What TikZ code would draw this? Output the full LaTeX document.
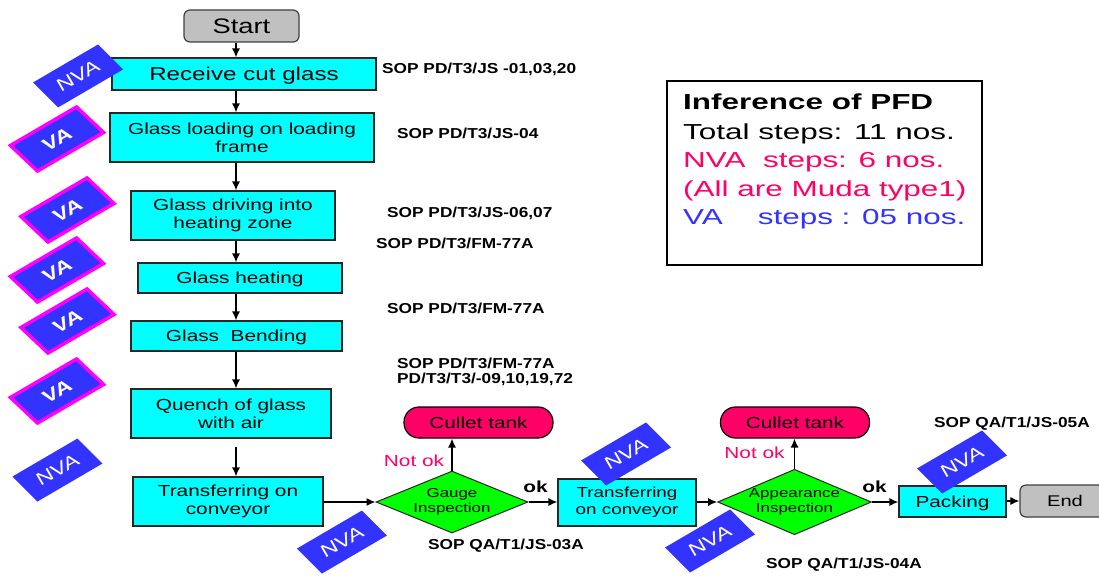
\documentclass[tikz,border=0pt]{standalone}
\usepackage{fontspec}
\setmainfont{Liberation Sans}[FakeStretch=1.3]
\newfontfamily\sopfont{Liberation Sans}[FakeStretch=1.2]
\newfontfamily\inffont{Liberation Sans}[FakeStretch=1.45]
\usetikzlibrary{shapes.geometric,arrows.meta}

\definecolor{stepcyan}{HTML}{00FFFF}
\definecolor{termgray}{HTML}{C0C0C0}
\definecolor{tagblue}{HTML}{3333FF}
\definecolor{vamagenta}{HTML}{FF00FF}
\definecolor{rejectred}{HTML}{FF0066}
\definecolor{checkgreen}{HTML}{00FF00}

\tikzset{
  process/.style={draw=black!85, line width=1.2, fill=stepcyan, inner sep=0,
    align=center, font=\fontsize{16}{18.4}\selectfont},
  oneline/.style={text depth=0pt},
  terminal/.style={draw=black!75, line width=1.2, fill=termgray, rounded corners=6,
    inner sep=0, text depth=0pt},
  check/.style={diamond, draw=black!85, line width=1, fill=checkgreen, inner sep=0,
    align=center, font=\fontsize{13}{15}\selectfont},
  bin/.style={draw=black, line width=1.2, fill=rejectred, rounded corners=15,
    inner sep=0, minimum width=149, minimum height=31, text depth=0pt,
    font=\fontsize{16}{18}\selectfont},
  flow/.style={-{Latex[length=9,width=8]}, line width=1.3},
  sop/.style={anchor=base west, inner sep=0,
    font=\sopfont\bfseries\fontsize{14.4}{16.5}\selectfont},
  inf/.style={anchor=base west, inner sep=0,
    font=\inffont\fontsize{21.7}{25}\selectfont},
  lbl/.style={inner sep=0, text depth=0pt, font=\fontsize{16}{18}\selectfont},
  tagtext/.style={inner sep=0, text=white, rotate=30},
  nvatag/.pic={
    \fill[tagblue] (-45,6.5) -- ++(65,-38) -- ++(25,25) -- ++(-65,38) -- cycle;
    \node[tagtext, font=\fontsize{18}{20}\selectfont] (-t) at (0,0) {NVA};
  },
  vatag/.pic={
    \filldraw[fill=tagblue, draw=vamagenta, line width=3.5]
      (-46.5,6.5) -- ++(66,-38.5) -- ++(27,25.5) -- ++(-66,38.5) -- cycle;
    \node[tagtext, font=\bfseries\fontsize{18}{20}\selectfont] (-t) at (0,0) {VA};
  },
}

\begin{document}
\begin{tikzpicture}[x=1pt, y=-1pt]
  \clip (0,0) rectangle (1099,575);
  \fill[white] (0,0) rectangle (1099,575);
  \coordinate (spine) at (236,0);

  % main vertical chain
  \node[terminal, minimum width=115, minimum height=32,
        font=\fontsize{21}{24}\selectfont] (start) at (241.5,26) {Start};
  \node[process, oneline, minimum width=264, minimum height=32,
        font=\fontsize{18.6}{21}\selectfont] (recv) at (244,74) {Receive cut glass};
  \node[process, minimum width=264, minimum height=49] (load) at (242,137.5)
        {Glass loading on loading\\frame};
  \node[process, minimum width=204, minimum height=49] (drive) at (233,215.5)
        {Glass driving into\\heating zone};
  \node[process, oneline, minimum width=204, minimum height=30] (heat) at (240,278)
        {Glass heating};
  \node[process, oneline, minimum width=211, minimum height=30] (bend) at (236.5,336)
        {Glass\ \ Bending};
  \node[process, minimum width=200, minimum height=49] (quench) at (231,413.5)
        {Quench of glass\\with air};
  \node[process, minimum width=190, minimum height=49] (trans1) at (228,501.5)
        {Transferring on\\conveyor};

  % bottom row
  \node[check, minimum width=152, minimum height=62, aspect=2.45] (gauge)
        at (452,502) {Gauge\\Inspection};
  \node[bin] (cul1) at (478.5,422.5) {Cullet tank};
  \node[process, minimum width=138, minimum height=47,
        font=\fontsize{14.5}{17}\selectfont] (trans2) at (627,502.5)
        {Transferring\\on conveyor};
  \node[check, minimum width=145, minimum height=62, aspect=2.35] (appear)
        at (794.5,502) {Appearance\\Inspection};
  \node[bin] (cul2) at (795,422.5) {Cullet tank};
  \node[process, oneline, minimum width=107, minimum height=31] (pack) at (952.5,501.5)
        {Packing};
  \node[terminal, minimum width=90, minimum height=32,
        font=\fontsize{15.5}{18}\selectfont] (end) at (1065,501) {End};

  % connectors
  \draw[flow] (start.south -| spine) -- (recv.north -| spine);
  \draw[flow] (recv.south -| spine) -- (load.north -| spine);
  \draw[flow] (load.south -| spine) -- (drive.north -| spine);
  \draw[flow] (drive.south -| spine) -- (heat.north -| spine);
  \draw[flow] (heat.south -| spine) -- (bend.north -| spine);
  \draw[flow] (bend.south -| spine) -- (quench.north -| spine);
  \draw[flow, shorten <=8] (quench.south -| spine) -- (trans1.north -| spine);
  \draw[flow] (trans1.east |- gauge.west) -- (gauge.west);
  \draw[flow] (gauge.north) -- (gauge.north |- cul1.south);
  \draw[flow] (gauge.east) -- (gauge.east -| trans2.west);
  \draw[flow] (trans2.east |- appear.west) -- (appear.west);
  \draw[flow] (appear.north) -- (appear.north |- cul2.south);
  \draw[flow] (appear.east) -- (appear.east -| pack.west);
  \draw[flow] (pack.east |- end.west) -- (end.west);

  % decision labels
  \node[lbl, text=rejectred] (nok1) at (414,461) {Not ok};
  \node[lbl, text=rejectred] (nok2) at (754.5,453) {Not ok};
  \node[lbl, font=\bfseries\fontsize{16}{18}\selectfont] (ok1) at (535.5,487) {ok};
  \node[lbl, font=\bfseries\fontsize{16}{18}\selectfont] (ok2) at (874.5,487) {ok};

  % procedure references
  \node[sop] (sop1) at (382,73.5) {SOP PD/T3/JS -01,03,20};
  \node[sop] (sop2) at (397,138.5) {SOP PD/T3/JS-04};
  \node[sop] (sop3) at (387,217.5) {SOP PD/T3/JS-06,07};
  \node[sop] (sop4) at (376,248) {SOP PD/T3/FM-77A};
  \node[sop] (sop5) at (387,313.5) {SOP PD/T3/FM-77A};
  \node[sop] (sop6a) at (397,368.5) {SOP PD/T3/FM-77A};
  \node[sop] (sop6b) at (397,383.5) {PD/T3/T3/-09,10,19,72};
  \node[sop] (sop7) at (428,549) {SOP QA/T1/JS-03A};
  \node[sop] (sop8) at (766,568) {SOP QA/T1/JS-04A};
  \node[sop] (sop9) at (934,427) {SOP QA/T1/JS-05A};

  % summary box
  \node[draw=black, line width=2, minimum width=315, minimum height=184, inner sep=0]
        (summary) at (824.5,173) {};
  \node[inf, font=\inffont\bfseries\fontsize{21.7}{25}\selectfont] (inf1) at (683,109.5)
        {Inference of PFD};
  \node[inf] (inf2) at (683,139.5) {Total steps: 11 nos.};
  \node[inf, text=rejectred] (inf3) at (683,167.8) {NVA\ \ steps: 6 nos.};
  \node[inf, text=rejectred] (inf4) at (683,196) {(All are Muda type1)};
  \node[inf, text=tagblue] (inf5) at (683,224.5) {VA\ \ \ \ steps : 05 nos.};

  % value-added / non-value-added tags
  \pic (nvaA) at (78,76) {nvatag};
  \pic (vaA) at (57,139) {vatag};
  \pic (vaB) at (67.5,210) {vatag};
  \pic (vaC) at (57,270) {vatag};
  \pic (vaD) at (67.5,321) {vatag};
  \pic (vaE) at (57,391) {vatag};
  \pic (nvaB) at (57.5,470) {nvatag};
  \pic (nvaC) at (342,542) {nvatag};
  \pic (nvaD) at (626,454) {nvatag};
  \pic (nvaE) at (710,541) {nvatag};
  \pic (nvaF) at (962,462) {nvatag};
\end{tikzpicture}
\end{document}
